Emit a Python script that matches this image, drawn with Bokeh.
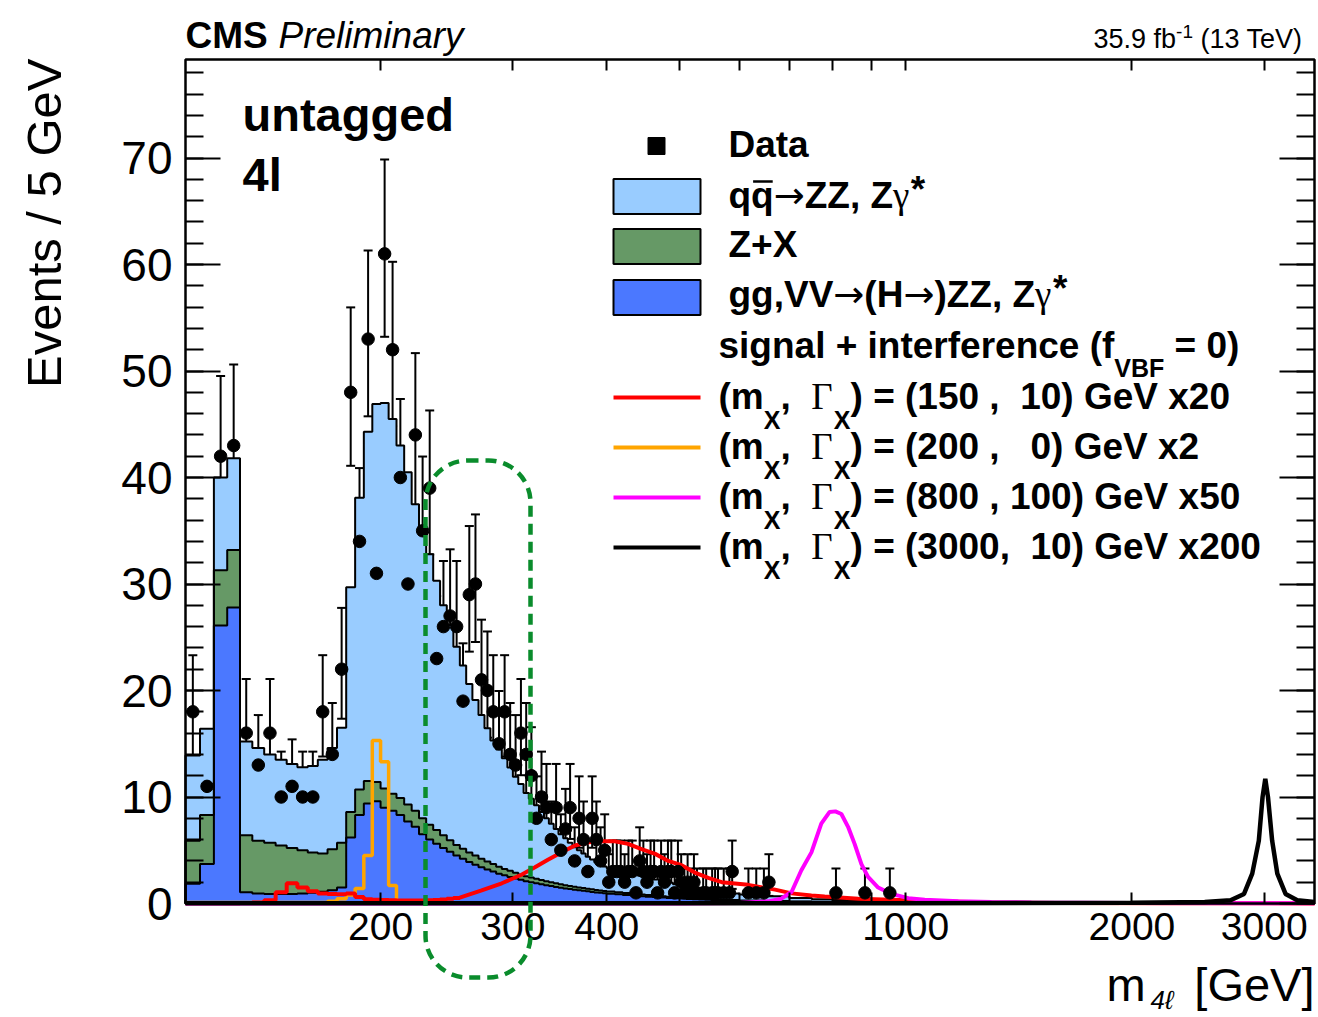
import numpy as np
from bokeh.plotting import figure
from bokeh.models import (Label, BoxAnnotation, LinearAxis, LogAxis, FixedTicker,
                          CustomJSTickFormatter, Whisker, TeeHead, ColumnDataSource)
from bokeh.embed import file_html
from bokeh.resources import INLINE

# ---------------- data ----------------
mc_edges = np.concatenate([np.arange(110, 400, 5), np.arange(400, 600, 10),
                           np.arange(600, 1000, 50), np.arange(1000, 3500, 500), [3500]]).astype(float)

gg_vv = [1.85, 3.7, 26.1, 27.8,
         1.06, 0.95, 0.9, 0.9, 0.9, 0.95, 1.0, 1.1, 1.25, 1.5,
         6.2, 8.3, 9.4, 9.6, 9.0, 8.7, 8.3, 7.7, 7.2, 6.5,
         6.0, 5.6, 5.2, 4.85, 4.5, 4.2, 3.9, 3.65, 3.4, 3.2,
         3.0, 2.8, 2.65, 2.5, 2.35, 2.22, 2.1, 2.0, 1.9, 1.8,
         1.72, 1.64, 1.56, 1.49, 1.42, 1.36, 1.3, 1.24, 1.19, 1.14,
         1.09, 1.04, 1.0, 0.96,
         0.92, 0.86, 0.8, 0.74, 0.69, 0.64, 0.6, 0.56, 0.52, 0.49,
         0.46, 0.43, 0.4, 0.38, 0.36, 0.34, 0.32, 0.3, 0.29, 0.27,
         0.24, 0.2, 0.16, 0.13, 0.11, 0.09, 0.08, 0.07,
         0.05, 0.03, 0.02, 0.01, 0.01]

z_plus_x = [4.05, 4.6, 5.2, 5.4,
            5.35, 4.95, 4.8, 4.55, 4.3, 4.05, 3.8, 3.6, 3.85, 4.2,
            2.4, 2.4, 2.1, 1.8, 1.8, 1.6, 1.6, 1.6, 1.5, 1.5,
            1.4, 1.3, 1.2, 1.1, 1.0, 0.95, 0.9, 0.85, 0.8, 0.75,
            0.7, 0.65, 0.6, 0.57, 0.54, 0.5, 0.47, 0.44, 0.42, 0.4,
            0.38, 0.36, 0.34, 0.32, 0.3, 0.29, 0.28, 0.27, 0.26, 0.25,
            0.24, 0.23, 0.22, 0.21,
            0.2, 0.19, 0.18, 0.17, 0.16, 0.15, 0.14, 0.13, 0.12, 0.11,
            0.1, 0.1, 0.09, 0.09, 0.08, 0.08, 0.07, 0.07, 0.06, 0.06,
            0.05, 0.04, 0.03, 0.03, 0.02, 0.02, 0.01, 0.01,
            0.01, 0.0, 0.0, 0.0, 0.0]

qq_zz = [8.0, 8.1, 8.7, 8.6,
         8.8, 8.7, 8.3, 8.05, 7.9, 7.8, 8.1, 8.8, 9.5, 10.8,
         21.1, 27.4, 32.8, 35.5, 36.2, 35.2, 33.1, 31.2, 28.8, 27.3,
         25.4, 23.4, 21.6, 20.2, 18.6, 17.2, 15.8, 14.6, 13.5, 12.5,
         11.6, 11.0, 10.4, 9.7, 9.0, 8.5, 7.8, 7.4, 6.9, 6.4,
         5.9, 5.5, 5.1, 4.7, 4.4, 4.05, 3.7, 3.5, 3.25, 3.0,
         2.8, 2.6, 2.5, 2.3,
         2.2, 2.05, 1.95, 1.9, 1.75, 1.66, 1.51, 1.41, 1.31, 1.2,
         1.09, 1.02, 0.96, 0.88, 0.83, 0.78, 0.73, 0.68, 0.65, 0.61,
         0.56, 0.44, 0.33, 0.24, 0.19, 0.15, 0.11, 0.08,
         0.04, 0.02, 0.01, 0.01, 0.0]

data_mass = [112.5, 117.5, 122.5, 127.5, 132.5, 137.5, 142.5, 147.5, 152.5, 157.5,
             162.5, 167.5, 172.5, 177.5, 182.5, 187.5, 192.5, 197.5, 202.5, 207.5,
             212.5, 217.5, 222.5, 227.5, 232.5, 237.5, 242.5, 247.5, 252.5, 257.5,
             262.5, 267.5, 272.5, 277.5, 282.5, 287.5, 292.5, 297.5, 302.5, 307.5,
             312.5, 317.5, 322.5, 327.5, 332.5, 337.5, 342.5, 347.5, 352.5, 357.5,
             362.5, 367.5, 372.5, 377.5, 382.5, 387.5, 392.5, 397.5, 402.5, 407.5,
             412.5, 417.5, 422.5, 427.5, 432.5, 437.5, 442.5, 447.5, 452.5, 457.5,
             462.5, 467.5, 472.5, 477.5, 482.5, 487.5, 492.5, 497.5, 502.5, 507.5,
             512.5, 517.5, 522.5, 527.5, 537.5, 542.5, 552.5, 557.5, 562.5, 572.5,
             582.5, 587.5, 617.5, 632.5, 647.5, 657.5, 807.5, 882.5, 952.5]
data_count = [18, 11, 42, 43, 16, 13, 16, 10, 11, 10,
              10, 18, 14, 22, 48, 34, 53, 31, 61, 52,
              40, 30, 44, 35, 39, 23, 26, 27, 26, 19,
              29, 30, 21, 20, 18, 15, 18, 14, 13, 16,
              14, 12, 8, 10, 9, 6, 9, 5, 7, 9,
              4, 8, 6, 3, 8, 6, 4, 5, 2, 3,
              3, 3, 2, 3, 3, 1, 4, 3, 2, 3,
              3, 1, 3, 2, 3, 3, 1, 3, 2, 1,
              2, 1, 2, 1, 1, 1, 1, 1, 1, 1,
              1, 3, 1, 1, 1, 2, 1, 1, 1]

orange_edges = np.arange(110, 265, 5).astype(float)
orange_val = [0.1, 0.1, 0.1, 0.1, 0.1, 0.1, 0.1, 0.1, 0.1, 0.1, 0.1, 0.1,
              0.2, 0.45, 0.8, 1.4, 4.5, 15.3, 13.3, 1.7, 0.15, 0.08,
              0.06, 0.05, 0.05, 0.04, 0.04, 0.03, 0.03, 0.02]
red_edges = np.arange(110, 260, 5).astype(float)
red_val = [0.02, 0.02, 0.03, 0.03, 0.05, 0.1, 0.3, 1.06, 1.9, 1.5,
           1.15, 0.95, 0.9, 0.88, 0.95, 0.6, 0.4, 0.35, 0.32, 0.3,
           0.28, 0.27, 0.27, 0.28, 0.3, 0.33, 0.38, 0.45, 0.52]
red_m = [255, 272, 290, 308, 321, 334, 348, 363, 378, 394, 410, 427, 445, 464, 483,
         503, 524, 546, 569, 617, 670, 705, 749, 780, 865, 957, 1100, 1300, 1600, 2200, 3500]
red_v = [0.55, 1.2, 1.9, 2.7, 3.4, 4.1, 4.8, 5.45, 5.75, 5.85, 5.85, 5.6, 5.1, 4.66, 4.0,
         3.6, 2.9, 2.4, 2.0, 1.75, 1.3, 0.95, 0.75, 0.65, 0.44, 0.35, 0.2, 0.1, 0.05, 0.02, 0.01]
mag_m = [110, 500, 600, 656, 683, 705, 726, 749, 772, 792, 806, 821, 838, 855, 873, 891,
         919, 957, 1008, 1060, 1175, 1300, 1470, 2000, 3500]
mag_v = [0.0, 0.0, 0.05, 0.2, 0.45, 1.1, 3.1, 4.8, 7.5, 8.6, 8.65, 8.4, 7.2, 5.6, 3.7, 2.5,
         1.5, 0.9, 0.5, 0.35, 0.2, 0.15, 0.1, 0.05, 0.02]
blk_m = [110, 1000, 2000, 2500, 2706, 2820, 2892, 2951, 2985, 3010, 3035, 3074, 3123,
         3203, 3320, 3500]
blk_v = [0.02, 0.03, 0.08, 0.15, 0.3, 0.9, 2.8, 5.9, 10.0, 11.7, 10.0, 5.9, 2.8, 0.9, 0.3, 0.15]

x_ticks = [200, 300, 400, 500, 600, 700, 800, 900, 1000, 2000, 3000]
x_labeled = [200, 300, 400, 1000, 2000, 3000]
y_ticks = [0, 10, 20, 30, 40, 50, 60, 70]
y_minor = list(range(0, 80, 2))

QQ_COL, ZX_COL, GG_COL = "#99ccff", "#669966", "#4b78ff"

# ---------------- geometry ----------------
W, H = 1318, 1017
FL, FR, FT, FB = 185, 1314, 59, 903          # where the data frame sits on the canvas
XMIN, XMAX = 110.0, 3500.0
YMAX = 79.25


def X(px):
    return 10 ** (np.log10(XMIN) + (px - FL) / (FR - FL) * np.log10(XMAX / XMIN))


def Y(py):
    return YMAX * (FB - py) / (FB - FT)


# the plotting frame covers the whole canvas; axes are pinned at the data-frame edges
p = figure(width=W, height=H, x_axis_type="log", x_range=(X(0), X(W)), y_range=(Y(H), Y(0)),
           output_backend="svg", toolbar_location=None, title=None,
           min_border=0, min_border_left=0, min_border_right=0,
           min_border_top=0, min_border_bottom=0)
p.xgrid.visible = False
p.ygrid.visible = False
p.outline_line_color = None
p.background_fill_color = "white"
p.border_fill_color = "white"

lab_js = "const L=[%s]; const t=Math.round(tick); return L.includes(t) ? String(t) : '';" % \
    ",".join(str(v) for v in x_labeled)


def style_x(ax, show, loc):
    ax.fixed_location = loc
    ax.ticker = FixedTicker(ticks=x_ticks, minor_ticks=[])
    ax.formatter = CustomJSTickFormatter(code=lab_js if show else "return '';")
    ax.major_label_text_font = "Liberation Sans"
    ax.major_label_text_color = "black"
    ax.major_label_text_font_size = "39px" if show else "0px"
    ax.major_label_standoff = 9 if show else 0
    ax.major_tick_in = 11
    ax.major_tick_out = 0
    ax.minor_tick_in = 0
    ax.minor_tick_out = 0
    ax.major_tick_line_width = 2
    ax.axis_line_color = None


def style_y(ax, show, loc):
    ax.fixed_location = loc
    ax.ticker = FixedTicker(ticks=y_ticks, minor_ticks=y_minor)
    ax.major_label_text_font = "Liberation Sans"
    ax.major_label_text_color = "black"
    ax.major_label_text_font_size = "46px" if show else "0px"
    ax.major_label_standoff = 13 if show else 0
    if not show:
        ax.formatter = CustomJSTickFormatter(code="return '';")
    ax.major_tick_in = 35
    ax.major_tick_out = 0
    ax.minor_tick_in = 18
    ax.minor_tick_out = 0
    ax.major_tick_line_width = 2
    ax.minor_tick_line_width = 2
    ax.axis_line_color = None


style_x(p.xaxis[0], True, 0.0)
style_y(p.yaxis[0], True, XMIN)
top_ax = LogAxis()
style_x(top_ax, False, YMAX)
p.add_layout(top_ax, "above")
right_ax = LinearAxis()
style_y(right_ax, False, XMAX)
p.add_layout(right_ax, "right")

# ---------------- stacked backgrounds ----------------
gg = np.array(gg_vv)
l1 = gg
l2 = gg + np.array(z_plus_x)
l3 = l2 + np.array(qq_zz)
zero = np.zeros(len(mc_edges))


def ext(a):
    return np.append(a, a[-1])


p.varea_step(x=mc_edges, y1=ext(l2), y2=ext(l3), step_mode="after", fill_color=QQ_COL)
p.varea_step(x=mc_edges, y1=ext(l1), y2=ext(l2), step_mode="after", fill_color=ZX_COL)
p.varea_step(x=mc_edges, y1=zero, y2=ext(l1), step_mode="after", fill_color=GG_COL)


def step_xy(edges, vals, close=True):
    xs, ys = [], []
    if close:
        xs.append(edges[0]); ys.append(0)
    for i, v in enumerate(vals):
        xs += [edges[i], edges[i + 1]]
        ys += [v, v]
    if close:
        xs.append(edges[len(vals)]); ys.append(0)
    return xs, ys


for lev in (l3, l2, l1):
    xs, ys = step_xy(mc_edges, lev)
    p.line(xs, ys, line_color="black", line_width=2)

# ---------------- signals ----------------
xs, ys = step_xy(orange_edges, orange_val, close=False)
p.line(xs, ys, line_color="#ffa500", line_width=3.5)
xs, ys = step_xy(red_edges, red_val, close=False)
p.line(xs + red_m, ys + red_v, line_color="#ff0000", line_width=4)
p.line(mag_m, mag_v, line_color="#ff00ff", line_width=4)
p.line(blk_m, blk_v, line_color="black", line_width=4.5)

# ---------------- data ----------------
n = np.array(data_count, dtype=float)
up = (n + 1) * (1 - 1 / (9 * (n + 1)) + 1 / (3 * np.sqrt(n + 1))) ** 3
lo = n * (1 - 1 / (9 * n) - 1 / (3 * np.sqrt(n))) ** 3
src = ColumnDataSource(dict(x=data_mass, y=n, up=up, lo=lo))
p.add_layout(Whisker(source=src, base="x", upper="up", lower="lo", dimension="height",
                     line_color="black", line_width=2,
                     upper_head=TeeHead(size=9, line_width=2, line_color="black"),
                     lower_head=TeeHead(size=9, line_width=2, line_color="black")))
p.scatter("x", "y", source=src, marker="circle", size=12.5, color="black")

# ---------------- frame box ----------------
p.add_layout(BoxAnnotation(left=XMIN, right=XMAX, bottom=0, top=YMAX, fill_alpha=0,
                           fill_color=None, line_color="black", line_alpha=1.0, line_width=2.5,
                           level="overlay"))

# ---------------- highlighted region ----------------
p.add_layout(BoxAnnotation(left=X(425), right=X(530), top=Y(460), bottom=Y(977),
                           border_radius=42, fill_alpha=0, fill_color=None,
                           line_color="#0a8c2c", line_alpha=1.0, line_width=4.5,
                           line_dash="11 7", level="overlay"))

# ---------------- text helpers ----------------
REG = {' ': 278, '\u00a0': 278, '(': 333, ')': 333, '*': 389, '+': 584, ',': 278, '-': 333,
       '.': 278, '/': 278, '=': 584, '[': 278, ']': 278,
       'A': 667, 'B': 667, 'C': 722, 'D': 722, 'E': 667, 'F': 611, 'G': 778, 'H': 722, 'I': 278,
       'M': 833, 'P': 667, 'S': 667, 'T': 611, 'V': 667, 'X': 667, 'Z': 611,
       'a': 556, 'b': 556, 'c': 500, 'd': 556, 'e': 556, 'f': 278, 'g': 556, 'i': 222, 'l': 222,
       'm': 833, 'n': 556, 'q': 556, 'r': 333, 's': 500, 't': 278, 'u': 556, 'v': 500, 'x': 500,
       'y': 500}
BOLD = dict(REG)
BOLD.update({'A': 722, 'B': 722, 'b': 611, 'c': 556, 'd': 611, 'f': 333, 'g': 611, 'i': 278,
             'l': 278, 'm': 889, 'n': 611, 'q': 611, 'r': 389, 's': 556, 't': 333, 'u': 611,
             'v': 556, 'x': 556, 'y': 556})
for d in "0123456789":
    REG[d] = 556
    BOLD[d] = 556
SPECIAL = {'\u2192': 838, '\u0393': 611, '\u03b3': 480}

FONTS = {"b": ("Liberation Sans", "bold"), "r": ("Liberation Sans", "normal"),
         "i": ("Liberation Sans", "italic"), "arrow": ("DejaVu Sans", "normal"),
         "serif": ("Liberation Serif", "normal")}
BASE_SHIFT = 0.33   # renderer places "alphabetic" text ~0.33 em low; compensate


def tw(text, size, kind):
    tab = BOLD if kind == "b" else REG
    return sum(SPECIAL.get(c, tab.get(c, 556)) for c in text) * size / 1000.0


def put(px, py, text, size, kind="r", align="left", angle=0.0, color="black"):
    font, style = FONTS[kind]
    if angle == 0.0:
        py = py - BASE_SHIFT * size
    else:
        px = px - BASE_SHIFT * size
    p.add_layout(Label(x=X(px), y=Y(py), text=text, text_font=font, text_font_style=style,
                       text_font_size="%.1fpx" % size, text_align=align,
                       text_baseline="alphabetic", angle=angle, text_color=color,
                       level="overlay"))


def rich(px, py, parts):
    x = px
    for part in parts:
        text, size, kind = part[:3]
        dy = part[3] if len(part) > 3 else 0
        put(x, py + dy, text, size, kind)
        x += tw(text, size, kind)


# header
put(185, 47, "CMS", 37, "b")
put(278, 47, "Preliminary", 37, "i")
rich(1093, 47, [("35.9 fb", 27, "r"), ("-1", 19, "r", -10), ("\u00a0(13 TeV)", 27, "r")])

# category label
put(242, 130, "untagged", 47, "b")
put(242, 190, "4l", 47, "b")

# axis titles
put(60, 58, "Events / 5 GeV", 49, "r", align="right", angle=np.pi / 2)
put(1106, 1000, "m", 47, "r")
put(1150, 1008, "4\u2113", 26, "i")
put(1314, 1000, "[GeV]", 47, "r", align="right")

# ---------------- legend ----------------
LS = 37
p.scatter([X(656)], [Y(145.5)], marker="square", size=17, color="black")
rich(728, 156, [("Data", LS, "b")])
for (top, col) in ((178.5, QQ_COL), (228.5, ZX_COL), (279.5, GG_COL)):
    p.quad(left=[X(613)], right=[X(700)], top=[Y(top)], bottom=[Y(top + 35)],
           fill_color=col, line_color="black", line_width=2)
rich(728, 207, [("qq", LS, "b"), ("\u2192", LS, "arrow"), ("ZZ, Z", LS, "b"),
                ("\u03b3", LS, "serif"), ("*", LS, "b", -6)])
q2 = 728 + tw("q", LS, "b")
p.line([X(q2 + 2), X(q2 + tw("q", LS, "b") - 1)], [Y(181)] * 2, line_color="black", line_width=2.5)
rich(728, 256, [("Z+X", LS, "b")])
rich(728, 306, [("gg,VV", LS, "b"), ("\u2192", LS, "arrow"), ("(H", LS, "b"),
                ("\u2192", LS, "arrow"), (")ZZ, Z", LS, "b"), ("\u03b3", LS, "serif"),
                ("*", LS, "b", -6)])
rich(718, 357, [("signal + interference (f", LS, "b"), ("VBF", 25, "b", 19),
                ("\u00a0= 0)", LS, "b")])

sig_rows = [("#ff0000", "150\u00a0,\u00a0\u00a010"), ("#ffa500", "200\u00a0,\u00a0\u00a0\u00a00"),
            ("#ff00ff", "800\u00a0, 100"), ("black", "3000,\u00a0\u00a010")]
sig_scale = ["x20", "x2", "x50", "x200"]
for i, ((col, vals), sc) in enumerate(zip(sig_rows, sig_scale)):
    yl = 397 + 50 * i
    p.line([X(613), X(700)], [Y(yl)] * 2, line_color=col, line_width=4)
    rich(718, yl + 11, [("(m", LS, "b"), ("X", 25, "b", 20), (",\u00a0\u00a0", LS, "b"),
                        ("\u0393", LS, "serif"), ("X", 25, "b", 20),
                        (") = (" + vals + ") GeV " + sc, LS, "b")])

open("out.html", "w").write(file_html(p, INLINE))
